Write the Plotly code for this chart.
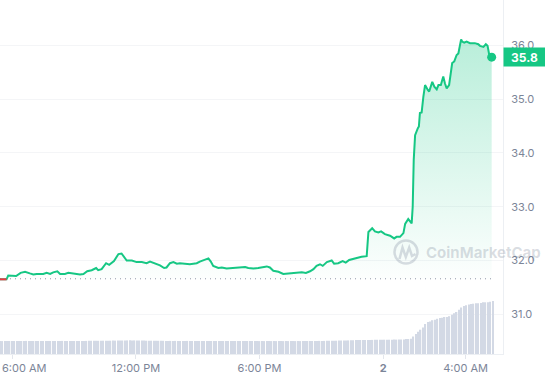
import plotly.graph_objects as go
import pandas as pd

DAY1 = "2024-03-01"
DAY2 = "2024-03-02"

# ---- price series (time, price) ----
times_day1 = ["05:24", "05:43", "05:48", "06:11", "06:24", "06:37", "06:51", "07:01", "07:11", "07:30",
              "07:40", "07:50", "07:59", "08:11", "08:19", "08:33", "08:43", "08:57", "09:17", "09:27",
              "09:38", "09:51", "10:04", "10:10", "10:20", "10:33", "10:42", "10:56", "11:09", "11:18",
              "11:25", "11:33", "11:48", "12:02", "12:17", "12:31", "12:41", "12:55", "13:10", "13:22",
              "13:29", "13:39", "13:49", "13:59", "14:08", "14:37", "14:57", "15:06", "15:21", "15:31",
              "15:38", "15:45", "16:00", "16:10", "16:24", "16:44", "16:58", "17:08", "17:18", "17:27",
              "17:42", "17:56", "18:11", "18:21", "18:30", "18:40", "18:55", "19:09", "19:24", "19:38",
              "19:53", "20:03", "20:15", "20:27", "20:37", "20:46", "20:56", "21:04", "21:16", "21:30",
              "21:37", "21:49", "22:02", "22:11", "22:21", "22:33", "22:43", "22:57", "23:12", "23:17",
              "23:28", "23:36", "23:46", "23:54"]
times_day2 = ["00:05", "00:20", "00:32", "00:39", "00:49", "00:59", "01:04", "01:13", "01:23", "01:26",
              "01:29", "01:33", "01:41", "01:44", "01:47", "01:52", "01:57", "02:02", "02:10", "02:14",
              "02:23", "02:29", "02:36", "02:41", "02:48", "02:55", "03:00", "03:05", "03:12", "03:18",
              "03:21", "03:27", "03:34", "03:39", "03:47", "03:50", "03:56", "04:03", "04:13", "04:27",
              "04:37", "04:42", "04:52", "04:59", "05:04", "05:09", "05:16"]

prices = [31.65, 31.65, 31.72, 31.71, 31.77, 31.79, 31.76, 31.74, 31.75, 31.75,
          31.77, 31.75, 31.78, 31.80, 31.75, 31.75, 31.77, 31.76, 31.74, 31.75,
          31.80, 31.82, 31.86, 31.82, 31.84, 31.95, 31.92, 31.99, 32.12, 32.13,
          32.07, 32.00, 32.00, 31.97, 31.97, 31.95, 31.98, 31.95, 31.91, 31.86,
          31.87, 31.95, 31.97, 31.94, 31.95, 31.93, 31.95, 31.98, 32.01, 32.04,
          31.98, 31.90, 31.86, 31.87, 31.85, 31.86, 31.86, 31.87, 31.88, 31.86,
          31.85, 31.86, 31.87, 31.89, 31.87, 31.81, 31.79, 31.75, 31.76, 31.77,
          31.77, 31.78, 31.77, 31.80, 31.84, 31.90, 31.93, 31.90, 31.97, 32.00,
          31.94, 31.95, 31.99, 31.96, 32.01, 32.03, 32.05, 32.07, 32.08, 32.53,
          32.60, 32.54, 32.52, 32.54, 32.49, 32.46, 32.41, 32.44, 32.44, 32.51,
          32.68, 32.77, 32.69, 33.00, 33.87, 34.33, 34.46, 34.49, 34.74, 34.75,
          35.04, 35.26, 35.17, 35.14, 35.32, 35.23, 35.18, 35.26, 35.26, 35.42,
          35.29, 35.20, 35.26, 35.48, 35.67, 35.70, 35.82, 35.85, 36.11, 36.07,
          36.05, 36.07, 36.04, 36.04, 36.02, 35.99, 35.97, 36.02, 35.99, 35.82,
          35.78]

open_price = 31.66

# ---- rolling 24h volume bars (millions) ----
volume_start = DAY1 + " 05:24"
volume_step = "7min"
volume_24h_m = [
    12.9, 12.9, 13.0, 13.0, 13.0, 13.1, 13.0, 13.0, 13.0, 13.0,
    13.0, 13.1, 13.1, 13.0, 13.0, 13.0, 13.0, 13.1, 13.1, 13.1,
    13.0, 13.0, 13.0, 13.0, 13.1, 13.1, 13.1, 13.1, 13.0, 13.0,
    13.0, 13.0, 13.0, 13.0, 13.1, 13.1, 13.1, 13.2, 13.2, 13.2,
    13.2, 13.2, 13.2, 13.3, 13.3, 13.3, 13.3, 13.4, 13.4, 13.4,
    13.5, 13.5, 13.6, 13.6, 13.7, 13.6, 13.6, 13.5, 13.5, 13.4,
    13.4, 13.3, 13.3, 13.3, 13.2, 13.2, 13.2, 13.2, 13.2, 13.1,
    13.1, 13.1, 13.1, 13.1, 13.1, 13.1, 13.1, 13.1, 13.1, 13.1,
    13.1, 13.1, 13.0, 13.0, 13.0, 13.0, 13.0, 13.0, 13.0, 13.0,
    13.0, 13.0, 13.0, 13.0, 13.0, 13.0, 13.0, 13.0, 13.0, 13.0,
    13.0, 13.0, 13.0, 13.0, 13.0, 13.0, 13.0, 13.0, 12.9, 12.9,
    12.9, 12.9, 12.9, 12.9, 12.9, 12.9, 12.9, 12.9, 12.9, 12.9,
    12.9, 12.9, 12.9, 12.9, 12.9, 12.9, 12.9, 13.0, 13.0, 13.0,
    13.0, 13.0, 13.0, 13.1, 13.1, 13.1, 13.2, 13.2, 13.2, 13.3,
    13.3, 13.4, 13.4, 13.5, 13.5, 13.6, 13.7, 13.8, 13.9, 14.0,
    14.0, 14.0, 14.1, 14.1, 14.1, 14.1, 14.2, 14.2, 14.2, 14.2,
    14.3, 14.3, 14.3, 14.3, 14.4, 14.4, 14.4, 14.5, 14.5,
    15.0, 15.0, 15.2, 17.5, 20.0, 22.3, 24.3, 26.5, 30.0, 32.0,
    32.5, 33.8, 34.3, 35.2, 36.0, 36.2, 37.0, 37.1, 37.8, 39.3,
    40.8, 42.0, 44.2, 46.5, 47.9, 48.7, 49.4, 50.0, 50.3, 50.7,
    50.8, 51.0, 51.7, 51.7, 51.8, 52.3, 53.0]

# ---- axis ticks ----
y_ticks = [31, 32, 33, 34, 35, 36]
x_tick_times = [DAY1 + " 06:00", DAY1 + " 12:00", DAY1 + " 18:00", DAY2 + " 00:00", DAY2 + " 04:00"]
x_tick_labels = ["6:00 AM", "12:00 PM", "6:00 PM", "2", "4:00 AM"]
watermark = "CoinMarketCap"

# ---------------------------------------------------------------
times = [DAY1 + " " + t for t in times_day1] + [DAY2 + " " + t for t in times_day2]
bar_times = pd.date_range(start=volume_start, periods=len(volume_24h_m), freq=volume_step)

GREEN = "#16c784"
RED = "#ea3943"
LABEL = "#7c8598"
FONT = "Inter"

W, H = 545, 380
ML, MR, MT, MB = 0, 42, 0, 26
PW, PH = W - ML - MR, H - MT - MB

def px_x(x):
    return (x - ML) / PW

def px_y(y):
    return (MT + PH - y) / PH

fig = go.Figure()

# volume bars on the (hidden) primary axis so price draws on top
fig.add_trace(go.Bar(x=bar_times, y=volume_24h_m, yaxis="y",
                     marker=dict(color="#d3d9e5", line=dict(width=0)),
                     hoverinfo="skip", showlegend=False))

# open-price dotted baseline
fig.add_trace(go.Scatter(x=times, y=[open_price] * len(times), yaxis="y2", mode="lines",
                         line=dict(color="#8e97a8", width=1, dash="1px,4px"),
                         hoverinfo="skip", showlegend=False))

# price line with gradient area to the baseline
fig.add_trace(go.Scatter(x=times, y=prices, yaxis="y2", mode="lines",
                         line=dict(color=GREEN, width=2),
                         fill="tonexty",
                         fillgradient=dict(type="vertical", start=open_price, stop=max(prices),
                                           colorscale=[[0, "rgba(22,199,132,0.01)"],
                                                       [1, "rgba(22,199,132,0.30)"]]),
                         hoverinfo="skip", showlegend=False))

# red part below the open price
red_y = [p if p < open_price else None for p in prices]
fig.add_trace(go.Scatter(x=times, y=red_y, yaxis="y2", mode="lines",
                         line=dict(color=RED, width=2), connectgaps=False,
                         hoverinfo="skip", showlegend=False))

# last point dot
fig.add_trace(go.Scatter(x=[times[-1]], y=[prices[-1]], yaxis="y2", mode="markers",
                         marker=dict(color=GREEN, size=9),
                         hoverinfo="skip", showlegend=False))

ticktext = [""] + x_tick_labels[1:]
ticktext = [("<b>%s</b>" % t if t == "2" else t) for t in ticktext]

fig.update_layout(
    width=W, height=H,
    margin=dict(l=ML, r=MR, t=MT, b=MB, pad=0),
    paper_bgcolor="white", plot_bgcolor="white",
    showlegend=False, bargap=0.45,
    font=dict(family=FONT, size=11, color=LABEL),
    xaxis=dict(type="date", range=[DAY1 + " 05:24", DAY2 + " 05:49"],
               tickvals=x_tick_times, ticktext=ticktext,
               showgrid=False, zeroline=False,
               showline=True, linecolor="#eceff3", linewidth=1,
               ticks="outside", ticklen=4, tickcolor="#e3e6ec",
               tickfont=dict(family=FONT, size=11, color=LABEL)),
    yaxis=dict(range=[0, max(volume_24h_m) * PH / 53.0], visible=False,
               showgrid=False, zeroline=False),
    yaxis2=dict(overlaying="y", side="right", range=[30.262, 36.842],
                tickvals=y_ticks, tickformat=".1f",
                showgrid=True, gridcolor="#f4f5f7", gridwidth=1, zeroline=False,
                showline=True, linecolor="#eceff3", linewidth=1,
                ticks="", ticklabelstandoff=5,
                tickfont=dict(family=FONT, size=11, color=LABEL)),
)

annotations = [
    # first x label kept inside the page
    dict(xref="paper", yref="paper", x=0, y=0, xanchor="left", yanchor="top",
         yshift=-5, text=x_tick_labels[0], showarrow=False,
         font=dict(family=FONT, size=11, color=LABEL)),
    # price tag
    dict(xref="paper", yref="y2", x=1, y=prices[-1], xanchor="left", yanchor="middle",
         text="<b>%.1f</b>" % prices[-1], showarrow=False,
         bgcolor=GREEN, width=37, height=14, borderpad=2,
         font=dict(family=FONT, size=12, color="white")),
    # watermark text
    dict(xref="paper", yref="paper", x=px_x(424), y=px_y(252), xanchor="left", yanchor="middle",
         text="<b>%s</b>" % watermark, showarrow=False,
         font=dict(family=FONT, size=15, color="rgba(88,102,126,0.22)")),
]
fig.update_layout(annotations=annotations)

# watermark logo (decoration)
cx, cy, r = 406, 252, 11.5
wm = "rgba(88,102,126,0.22)"
shapes = [
    dict(type="circle", xref="paper", yref="paper",
         x0=px_x(cx - r), x1=px_x(cx + r), y0=px_y(cy + r), y1=px_y(cy - r),
         line=dict(color=wm, width=2.5), fillcolor="rgba(0,0,0,0)", layer="above"),
]
pts = [(399.5, 259), (402.5, 247.5), (405.8, 257), (409.2, 247.5), (412, 256), (415.5, 254)]
path = "M " + " L ".join("%f,%f" % (px_x(a), px_y(b)) for a, b in pts)
shapes.append(dict(type="path", xref="paper", yref="paper", path=path,
                   line=dict(color=wm, width=2.5), layer="above"))
fig.update_layout(shapes=shapes)

fig.write_html("out.html", config={"displayModeBar": False},
               post_script="document.body.style.margin='0';document.body.style.overflow='hidden';")
